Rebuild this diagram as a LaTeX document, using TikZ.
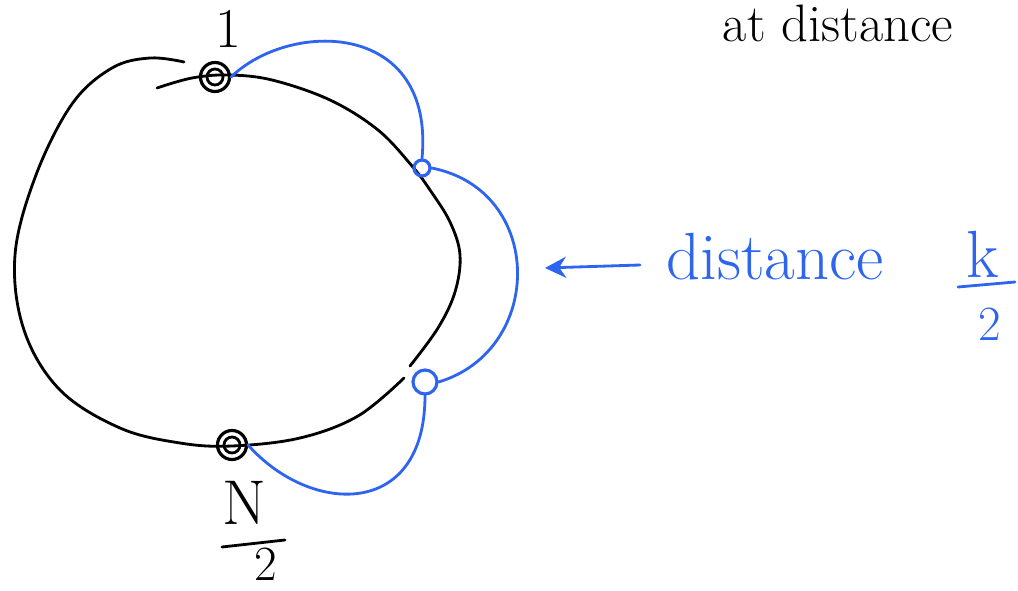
\documentclass[tikz,border=0pt]{standalone}
\usetikzlibrary{arrows.meta}
\definecolor{penblue}{RGB}{45,100,240}
\begin{document}
\begin{tikzpicture}[x=0.02cm,y=-0.02cm,
  pen/.style={line width=1.6pt,line cap=round,line join=round},
  bpen/.style={pen,draw=penblue},
  knode/.style={circle,draw=black,line width=1.8pt,minimum size=0.58cm,inner sep=0pt},
  bnode/.style={circle,draw=penblue,line width=1.8pt,inner sep=0pt},
  lbl/.style={font=\fontsize{32}{36}\selectfont,inner sep=1pt},
  blbl/.style={font=\fontsize{38}{44}\selectfont,text=penblue,inner sep=1pt}]
\useasboundingbox (0,0) rectangle (1018,591);
\clip (0,0) rectangle (1018,591);
% ring
\draw[pen] plot[smooth,tension=0.6] coordinates {(184,62) (150,58) (112,68) (72,104) (36,175) (15,255) (24,330) (60,390) (120,428) (180,443) (232,446) (300,438) (358,416) (404,378)};
\draw[pen] plot[smooth,tension=0.6] coordinates {(410,366) (438,328) (455,292) (460,255) (450,222) (430,190) (412,166) (378,130) (330,100) (272,80) (228,75) (192,78) (157,88)};
% nodes
\node[knode] (n1) at (215,77) {};
\draw[pen] (n1) circle[radius=8];
\node[bnode,minimum size=0.32cm] (n2) at (422,168) {};
\node[bnode,minimum size=0.48cm] (n3) at (425,382) {};
\node[knode] (n4) at (232,445) {};
\draw[pen] (n4) circle[radius=8];
% blue connectors
\draw[bpen] (n1.east) .. controls (290,20) and (435,20) .. (n2.north);
\draw[bpen] (n2.east) .. controls (545,190) and (545,350) .. (n3.east);
\draw[bpen] (n3.south) .. controls (425,520) and (310,515) .. (n4.east);
% arrow
\coordinate (astart) at (640,265);
\coordinate (aend) at (545,268);
\draw[bpen,-{Stealth[length=12pt,width=12pt]}] (astart) -- (aend);
% labels
\node[lbl,anchor=base] (one) at (228,48) {1};
\node[lbl,font=\fontsize{36}{40}\selectfont,anchor=base] (N) at (244,524) {N};
\coordinate (nb1) at (222,547);
\coordinate (nb2) at (285,540);
\draw[pen] (nb1) -- (nb2);
\node[lbl,font=\fontsize{28}{32}\selectfont,anchor=base] (two) at (266,580) {2};
\node[blbl,anchor=base] (dist) at (775,280) {distance};
\node[blbl,anchor=base] (k) at (983,278) {k};
\coordinate (kb1) at (958,287);
\coordinate (kb2) at (1015,282);
\draw[bpen] (kb1) -- (kb2);
\node[blbl,font=\fontsize{28}{32}\selectfont,anchor=base] (ktwo) at (990,340) {2};
\node[lbl,font=\fontsize{30}{34}\selectfont,anchor=base] (top) at (838,42) {at distance};
\end{tikzpicture}
\end{document}
